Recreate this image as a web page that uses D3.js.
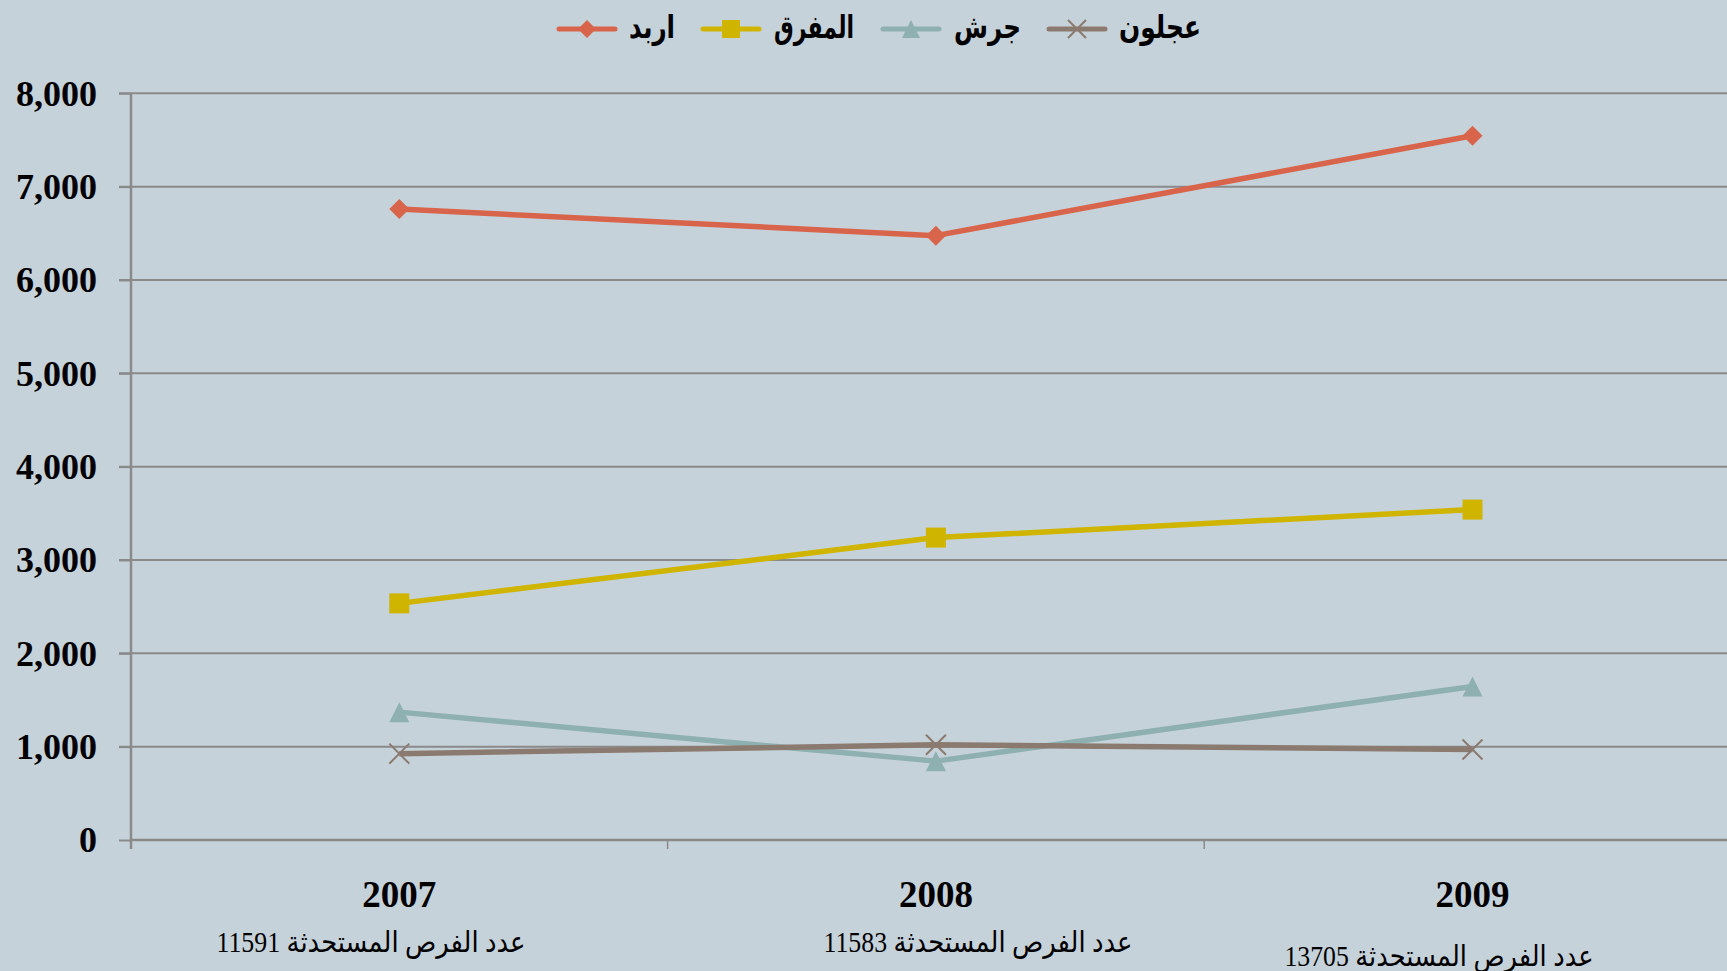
<!DOCTYPE html>
<html>
<head>
<meta charset="utf-8">
<script src="https://cdn.jsdelivr.net/npm/d3@7"></script>
<style>
    html, body { margin: 0; padding: 0; background: #c6d2d9; overflow: hidden; }
</style>
</head>
<body>
<div id="d3plot"></div>
<script>
// Data
// ==================================================================
const years = ["2007", "2008", "2009"];
const seriesNames = ["اربد", "المفرق", "جرش", "عجلون"];
const irbid = [6760, 6475, 7545];
const mafraq = [2535, 3240, 3540];
const jerash = [1370, 845, 1645];
const ajloun = [925, 1020, 970];
const totals = [11591, 11583, 13705];
const yTicks = [0, 1000, 2000, 3000, 4000, 5000, 6000, 7000, 8000];

// Layout and styles
// ==================================================================
const W = 1727, H = 971,
    x0 = 131, step = 536.6,
    yTop = 93.3, yBottom = 840;
const colors = ["#d8654b", "#cfb400", "#8eb0b0", "#8b7a6f"];
const shapes = ["diamond", "square", "triangle", "x"];
// legend symbol centre and text start, per item
const legendSym = [587, 731, 911, 1077];
const legendTxt = [629, 774, 954, 1119];
const legendTxtW = [46, 80, 67, 82];
// footnote placement under each year (centre x, baseline y)
const noteX = [371, 978, 1439];
const noteY = [952, 952, 966];

/**
 * Path for a marker shape centred on 0,0
 */
function marker(shape, r) {
    if (shape === "diamond") return `M0,${-r}L${r},0L0,${r}L${-r},0Z`;
    if (shape === "square") return `M${-r},${-r}H${r}V${r}H${-r}Z`;
    if (shape === "triangle") return `M0,${-r}L${r},${r}L${-r},${r}Z`;
    return `M${-r},${-r}L${r},${r}M${r},${-r}L${-r},${r}`;
}

function draw_marker(g, shape, color, r) {
    let p = g.append("path").attr("d", marker(shape, r));
    if (shape === "x") {
        p.attr("fill", "none").attr("stroke", color).attr("stroke-width", 2);
    } else {
        p.attr("fill", color);
    }
}

// Scales
// ==================================================================
let xScale = d3.scaleBand()
    .domain(years)
    .range([x0, x0 + step * years.length]);

let yScale = d3.scaleLinear()
    .domain([0, 8000])
    .range([yBottom, yTop]);

// Add svg
// ==================================================================
let svg = d3.select("#d3plot")
    .append("svg")
        .attr("width", W)
        .attr("height", H);

svg.append("rect")
    .attr("width", W).attr("height", H)
    .attr("fill", "#c6d2d9");

// Grid + y axis
// ==================================================================
svg.append("g")
    .selectAll("line")
    .data(yTicks.filter(d => d > 0))
    .enter()
    .append("line")
        .attr("x1", x0 - 12).attr("x2", W)
        .attr("y1", d => yScale(d)).attr("y2", d => yScale(d))
        .attr("stroke", "#8a8a8a")
        .attr("stroke-width", 2);

let yAxis = svg.append("g")
    .attr("transform", `translate(${x0},0)`)
    .call(d3.axisLeft(yScale)
        .tickValues(yTicks)
        .tickSize(12)
        .tickPadding(22)
        .tickFormat(d3.format(",")));

yAxis.select(".domain").remove();
yAxis.selectAll(".tick line").attr("stroke", "#8a8a8a").attr("stroke-width", 2);
yAxis.selectAll(".tick text")
    .attr("font-family", "'Liberation Serif', 'Times New Roman', serif")
    .attr("font-weight", "bold")
    .attr("font-size", "36px")
    .attr("fill", "#000")
    .attr("dy", "0.33em");

svg.append("line")
    .attr("x1", x0).attr("x2", x0)
    .attr("y1", yTop).attr("y2", yBottom + 9)
    .attr("stroke", "#8a8a8a").attr("stroke-width", 2.5);

// X axis
// ==================================================================
svg.append("line")
    .attr("x1", x0).attr("x2", W)
    .attr("y1", yBottom).attr("y2", yBottom)
    .attr("stroke", "#8a8a8a").attr("stroke-width", 2.5);

svg.append("g")
    .selectAll("line")
    .data(years.slice(1))
    .enter()
    .append("line")
        .attr("x1", d => xScale(d)).attr("x2", d => xScale(d))
        .attr("y1", yBottom).attr("y2", yBottom + 9)
        .attr("stroke", "#8a8a8a").attr("stroke-width", 1.5);

svg.append("g")
    .selectAll("text")
    .data(years)
    .enter()
    .append("text")
        .attr("x", d => xScale(d) + xScale.bandwidth() / 2)
        .attr("y", 907)
        .attr("text-anchor", "middle")
        .attr("font-family", "'Liberation Serif', 'Times New Roman', serif")
        .attr("font-weight", "bold")
        .attr("font-size", "37px")
        .text(d => d);

svg.append("g")
    .selectAll("text")
    .data(totals)
    .enter()
    .append("text")
        .attr("x", (d, i) => noteX[i])
        .attr("y", (d, i) => noteY[i])
        .attr("text-anchor", "middle")
        .attr("direction", "rtl")
        .attr("font-family", "'Liberation Serif', 'DejaVu Sans', serif")
        .attr("font-size", "29px")
        .attr("textLength", 309)
        .attr("lengthAdjust", "spacingAndGlyphs")
        .text(d => "عدد الفرص المستحدثة " + d);

// Series
// ==================================================================
const series = [irbid, mafraq, jerash, ajloun];
const cx = i => xScale(years[i]) + xScale.bandwidth() / 2;

let line = d3.line()
    .x((d, i) => cx(i))
    .y(d => yScale(d));

series.forEach((vals, s) => {
    svg.append("path")
        .datum(vals)
        .attr("fill", "none")
        .attr("stroke", colors[s])
        .attr("stroke-width", 5.5)
        .attr("stroke-linejoin", "round")
        .attr("d", line);

    vals.forEach((v, i) => {
        let g = svg.append("g")
            .attr("transform", `translate(${cx(i)},${yScale(v)})`);
        draw_marker(g, shapes[s], colors[s], 10);
    });
});

// Legend
// ==================================================================
seriesNames.forEach((name, i) => {
    let g = svg.append("g").attr("transform", `translate(${legendSym[i]},29)`);
    g.append("line")
        .attr("x1", -28).attr("x2", 28)
        .attr("stroke", colors[i]).attr("stroke-width", 5)
        .attr("stroke-linecap", "round");
    draw_marker(g, shapes[i], colors[i], 9);

    svg.append("text")
        .attr("x", legendTxt[i] + legendTxtW[i] / 2)
        .attr("y", 38)
        .attr("text-anchor", "middle")
        .attr("direction", "rtl")
        .attr("font-family", "'DejaVu Sans', sans-serif")
        .attr("font-weight", "bold")
        .attr("font-size", "32px")
        .attr("textLength", legendTxtW[i])
        .attr("lengthAdjust", "spacingAndGlyphs")
        .text(name);
});
</script>
</body>
</html>
